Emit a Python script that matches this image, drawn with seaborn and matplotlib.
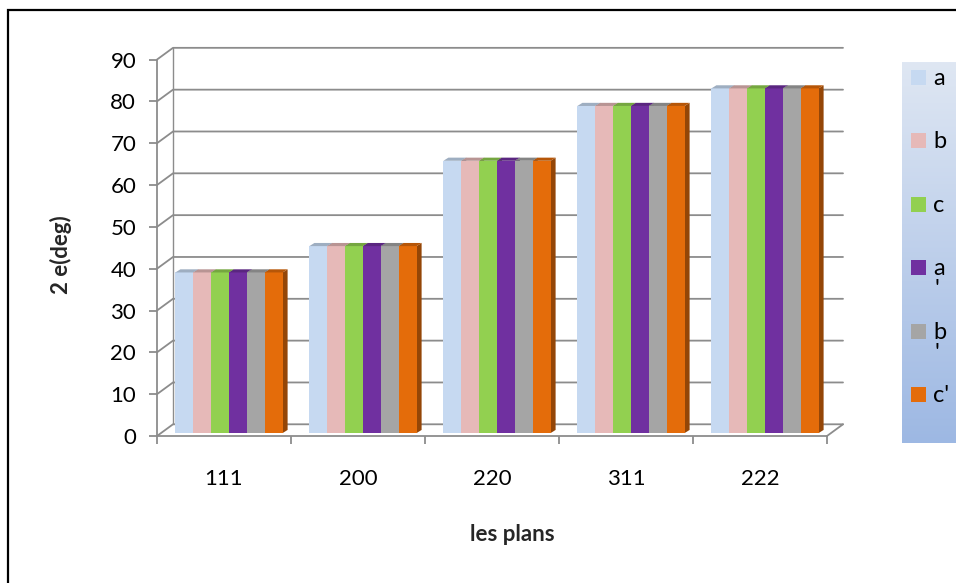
import matplotlib
matplotlib.use("Agg")

import numpy as np
import pandas as pd
import matplotlib.pyplot as plt
import matplotlib.colors as mcolors
from matplotlib.patches import Polygon, Rectangle
import seaborn as sns

# ===============================
# data
# ===============================
plans = ['111', '200', '220', '311', '222']
series = ['a', 'b', 'c', "a'", "b'", "c'"]
val_a = [38.4, 44.7, 65.1, 78.2, 82.4]
val_b = [38.4, 44.7, 65.1, 78.2, 82.4]
val_c = [38.4, 44.7, 65.1, 78.2, 82.4]
val_a2 = [38.4, 44.7, 65.1, 78.2, 82.4]
val_b2 = [38.4, 44.7, 65.1, 78.2, 82.4]
val_c2 = [38.4, 44.7, 65.1, 78.2, 82.4]
yticks = [0, 10, 20, 30, 40, 50, 60, 70, 80, 90]

colors = ['#c6d9f1', '#e6b9b8', '#92d050', '#7030a0', '#a5a5a5', '#e46c0a']

df = pd.DataFrame({
    'plan': plans * 6,
    'serie': [s for s in series for _ in plans],
    'val': val_a + val_b + val_c + val_a2 + val_b2 + val_c2,
})

sns.set_style('white')
plt.rcParams['font.family'] = ['Lato', 'DejaVu Sans']

W, H = 956, 583
fig = plt.figure(figsize=(W / 100, H / 100), dpi=100)

# axes box in pixels: left 157, right 843, bottom 436, top 47
ax = fig.add_axes([157 / W, 1 - 436 / H, (843 - 157) / W, (436 - 47) / H])

sns.barplot(data=df, x='plan', y='val', hue='serie', palette=colors,
            width=0.8, saturation=1, legend=False, ax=ax, zorder=3,
            edgecolor='none', linewidth=0)

DX = 16 / 134   # back wall offset (category units)
DY = 2.8        # back wall offset (value units)
ax.set_xlim(-0.5, 4.5 + DX)
ax.set_ylim(0, 93)

grid_c = '#8c8c8c'
# back wall gridlines
for v in yticks:
    ax.plot([-0.5, -0.5 + DX, 4.5 + DX], [v, v + DY, v + DY],
            color=grid_c, lw=1.3, zorder=1, clip_on=False)
ax.plot([-0.5 + DX, -0.5 + DX], [DY, yticks[-1] + DY], color=grid_c, lw=1.0, zorder=1)
ax.plot([4.5, 4.5 + DX], [0, DY], color=grid_c, lw=1.3, zorder=1, clip_on=False)

# bars stand a little inside the floor (mid depth) + 3D faces
bx, by = 5 / 134, 0.7
ddx, ddy = 5 / 134, 0.75
bars = sorted(ax.patches, key=lambda p: p.get_x())
for p in bars:
    p.set_x(p.get_x() + bx)
    p.set_y(by)
    x0, w, h = p.get_x(), p.get_width(), p.get_height()
    y1 = by + h
    rgb = np.array(mcolors.to_rgb(p.get_facecolor()))
    top = Polygon([(x0, y1), (x0 + ddx, y1 + ddy), (x0 + w + ddx, y1 + ddy), (x0 + w, y1)],
                  closed=True, facecolor=rgb * 0.8, edgecolor='none', zorder=3.5)
    side = Polygon([(x0 + w, by), (x0 + w, y1), (x0 + w + ddx, y1 + ddy), (x0 + w + ddx, by + ddy)],
                   closed=True, facecolor=rgb * 0.65, edgecolor='none', zorder=2.5)
    ax.add_patch(top)
    ax.add_patch(side)

# axes styling
for s in ['top', 'right']:
    ax.spines[s].set_visible(False)
ax.spines['left'].set_bounds(0, 90)
ax.spines['bottom'].set_bounds(-0.5, 4.5)
for s in ['left', 'bottom']:
    ax.spines[s].set_color(grid_c)
    ax.spines[s].set_linewidth(1.3)

ax.set_yticks(yticks)
ax.tick_params(axis='y', length=6, width=1.3, color=grid_c, labelsize=16, pad=9,
               labelcolor='black', left=True)
ax.set_xticks(range(len(plans)))
ax.set_xticklabels(plans)
ax.set_xticks(np.arange(-0.5, 5, 1), minor=True)
ax.tick_params(axis='x', which='major', length=0, labelsize=16, pad=24, labelcolor='black')
ax.tick_params(axis='x', which='minor', length=6, width=1.3, color=grid_c, bottom=True)

ax.set_xlabel('les plans', fontsize=16, fontweight='bold')
ax.set_ylabel('2 e(deg)', fontsize=16, fontweight='bold')
ax.xaxis.set_label_coords((512 - 157) / 686, (436 - 524) / 389)
ax.yaxis.set_label_coords((72 - 157) / 686, (436 - 255) / 389)

# ===============================
# legend with gradient background
# ===============================
lax = fig.add_axes([902 / W, 1 - 443 / H, (W - 902) / W, (443 - 62) / H])
grad = np.linspace(0, 1, 256).reshape(-1, 1)
cmap = mcolors.LinearSegmentedColormap.from_list('g', ['#dfe7f3', '#9db8e3'])
lax.imshow(grad, aspect='auto', cmap=cmap, extent=[0, W - 902, 443, 62])
lax.set_xlim(0, W - 902)
lax.set_ylim(443, 62)
lax.axis('off')

step = 63.4
for i, (lab, col) in enumerate(zip(series, colors)):
    ytop = 70 + i * step
    lax.add_patch(Rectangle((9, ytop), 15, 15, facecolor=col, edgecolor='none'))
    if lab.endswith("'") and lab != "c'":
        # narrow legend: the quote wraps onto the next line
        lax.text(31, ytop + 15, lab[:-1], fontsize=17, va='baseline', ha='left', color='black')
        lax.text(32, ytop + 19, "'", fontsize=17, va='top', ha='left', color='black')
    else:
        lax.text(31, ytop + 15, lab, fontsize=17, va='baseline', ha='left', color='black')

# outer frame
fig.patches.append(Rectangle((8 / W, -0.1), 1.2, 1 - 10 / H + 0.1, fill=False,
                             edgecolor='black', lw=1.6, transform=fig.transFigure,
                             figure=fig))

plt.savefig('out.png', dpi=100)
plt.close()
